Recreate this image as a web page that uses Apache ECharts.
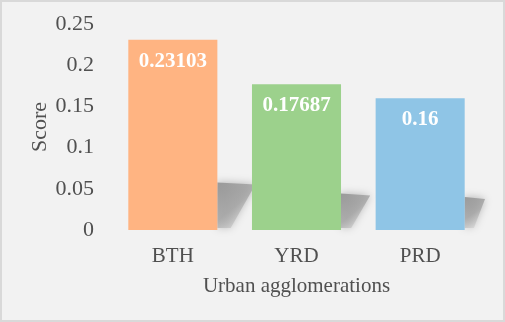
<!DOCTYPE html>
<html><head><meta charset="utf-8">
<script src="https://cdn.jsdelivr.net/npm/echarts@6/dist/echarts.min.js"></script>
<style>
html,body{margin:0;padding:0;background:#fff;}
#c{position:absolute;left:0;top:0;width:501px;height:318px;border:2px solid #d9d9d9;background:#f2f2f2;}
</style></head><body>
<div id="c"></div>
<script>
const categories = ['BTH', 'YRD', 'PRD'];
const scores = [0.23103, 0.17687, 0.16];
const barColors = ['#FFB482', '#9CD18C', '#8FC5E6'];
const yTicks = [0, 0.05, 0.1, 0.15, 0.2, 0.25];

const chart = echarts.init(document.getElementById('c'), null, {renderer: 'canvas'});
const FONT = '"Liberation Serif", "Times New Roman", serif';
const TXT = '#505050';

chart.setOption({
  backgroundColor: '#f2f2f2',
  animation: false,
  grid: {left: 109, right: 21, top: 22, bottom: 90, containLabel: false},
  xAxis: {
    type: 'category', data: categories,
    axisLine: {show: false}, axisTick: {show: false},
    axisLabel: {fontFamily: FONT, fontSize: 21, color: TXT, margin: 16},
    name: 'Urban agglomerations', nameLocation: 'middle', nameGap: 46,
    nameMoveOverlap: false,
    nameTextStyle: {fontFamily: FONT, fontSize: 21, color: TXT}
  },
  yAxis: {
    type: 'value', min: 0, max: 0.25, interval: 0.05,
    splitLine: {show: false}, axisLine: {show: false}, axisTick: {show: false},
    axisLabel: {fontFamily: FONT, fontSize: 22, color: TXT, margin: 17,
      formatter: v => String(+v.toFixed(2))},
    name: 'Score', nameLocation: 'middle', nameGap: 60,
    nameMoveOverlap: false,
    nameTextStyle: {fontFamily: FONT, fontSize: 22, color: TXT}
  },
  series: [
    {
      type: 'custom', z: 1, silent: true,
      data: scores.map((v, i) => [i, v]),
      renderItem: function (params, api) {
        const i = api.value(0), v = api.value(1);
        const base = api.coord([i, 0]);
        const top = api.coord([i, v]);
        const band = api.size([1, 0])[0];
        const bw = band * 0.72;
        const xr = base[0] + bw / 2;
        const h = base[1] - top[1];
        const sh = h * 0.25, sw = h * 0.2;
        const right = params.coordSys.x + params.coordSys.width + 3;
        const xt = Math.min(xr + sw, right);
        const xb = Math.min(xr + sw * 0.35, right);
        return {
          type: 'polygon',
          shape: {points: [[xr, base[1] - 2], [xr, base[1] - sh], [xt, base[1] - sh + 2], [xb, base[1] - 2]]},
          style: {
            fill: new echarts.graphic.LinearGradient(0, 0, 1, 1, [
              {offset: 0, color: 'rgba(150,150,150,0.95)'},
              {offset: 0.5, color: 'rgba(165,165,165,0.8)'},
              {offset: 1, color: 'rgba(220,220,220,0.4)'}
            ]),
            shadowBlur: 9, shadowColor: 'rgba(160,160,160,0.9)'
          }
        };
      }
    },
    {
      type: 'bar', z: 2, barWidth: '72%',
      data: scores.map((v, i) => ({value: v, itemStyle: {color: barColors[i]}})),
      label: {
        show: true, position: 'insideTop', distance: 11,
        fontFamily: FONT, fontSize: 21, fontWeight: 'bold', color: '#ffffff',
        formatter: p => String(p.value)
      }
    }
  ]
});
</script>
</body></html>
